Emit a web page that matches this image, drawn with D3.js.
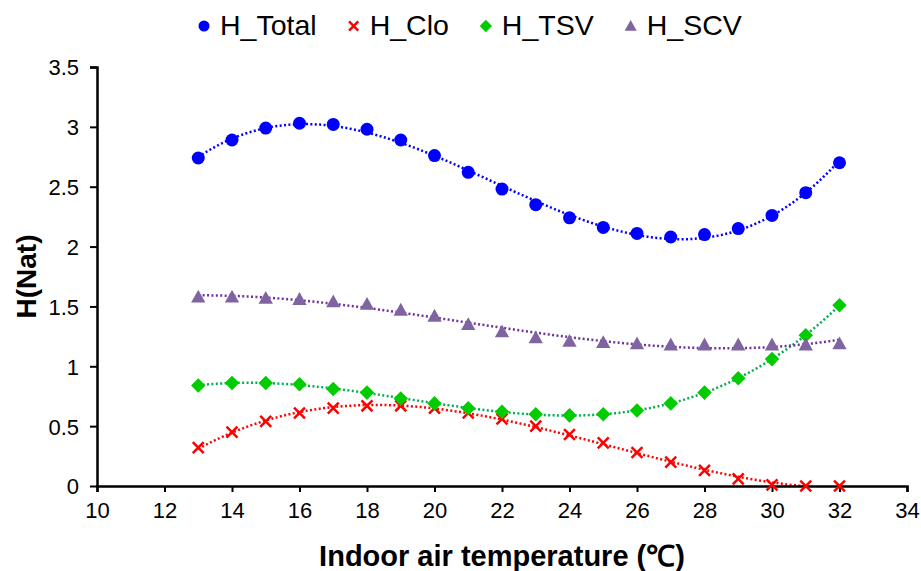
<!DOCTYPE html>
<html>
<head>
<meta charset="utf-8">
<script src="https://cdn.jsdelivr.net/npm/d3@7"></script>
<style>
  body { margin: 0; background: #fff; }
  text { font-family: "Liberation Sans", Arial, sans-serif; }
</style>
</head>
<body>
<script>
// Data
var temps = [13, 14, 15, 16, 17, 18, 19, 20, 21, 22, 23, 24, 25, 26, 27, 28, 29, 30, 31, 32];
var hTotal = [2.74, 2.89, 2.99, 3.03, 3.02, 2.98, 2.89, 2.76, 2.62, 2.48, 2.35, 2.24, 2.16, 2.11, 2.08, 2.10, 2.15, 2.26, 2.45, 2.70];
var hClo   = [0.32, 0.45, 0.54, 0.61, 0.65, 0.67, 0.67, 0.65, 0.61, 0.56, 0.50, 0.43, 0.36, 0.28, 0.20, 0.13, 0.06, 0.01, 0.00, 0.00];
var hTSV   = [0.84, 0.86, 0.86, 0.85, 0.81, 0.78, 0.73, 0.69, 0.65, 0.62, 0.60, 0.59, 0.60, 0.63, 0.69, 0.78, 0.90, 1.06, 1.26, 1.51];
var hSCV   = [1.58, 1.58, 1.57, 1.56, 1.54, 1.52, 1.47, 1.42, 1.35, 1.29, 1.24, 1.21, 1.20, 1.19, 1.18, 1.18, 1.18, 1.18, 1.18, 1.19];
var xTicks = [10, 12, 14, 16, 18, 20, 22, 24, 26, 28, 30, 32, 34];
var yTicks = [0, 0.5, 1, 1.5, 2, 2.5, 3, 3.5];

var w = 921, h = 571;
var margin = {top: 67, right: 14, bottom: 85, left: 97};
var innerWidth = w - margin.left - margin.right;
var innerHeight = h - margin.top - margin.bottom;

var series = [
  {name: "H_Total", values: hTotal, marker: "circle",   fill: "#0000FF", line: "#0000FF"},
  {name: "H_Clo",   values: hClo,   marker: "cross",    fill: "#FF0000", line: "#FF0000"},
  {name: "H_TSV",   values: hTSV,   marker: "diamond",  fill: "#00CC00", line: "#00B050"},
  {name: "H_SCV",   values: hSCV,   marker: "triangle", fill: "#8064A2", line: "#7030A0"}
];

var svg = d3.select("body").append("svg")
    .attr("width", w)
    .attr("height", h);

var x = d3.scaleLinear().domain([10, 34]).range([0, innerWidth]);
var y = d3.scaleLinear().domain([0, 3.5]).range([innerHeight, 0]);

var g = svg.append("g")
    .attr("transform", `translate(${margin.left},${margin.top})`);

svg.append("defs").append("clipPath").attr("id", "plot")
  .append("rect").attr("x", 0).attr("y", 0)
    .attr("width", innerWidth).attr("height", innerHeight);

// least squares cubic trend (like the spreadsheet's polynomial trendline)
function polyFit(xs, ys, deg) {
  var n = deg + 1, A = [], b = [];
  for (var i = 0; i < n; i++) {
    A.push(new Array(n).fill(0));
    b.push(0);
  }
  xs.forEach(function (xv, k) {
    var t = xv - 22.5;
    for (var i = 0; i < n; i++) {
      for (var j = 0; j < n; j++) A[i][j] += Math.pow(t, i + j);
      b[i] += ys[k] * Math.pow(t, i);
    }
  });
  for (var c = 0; c < n; c++) {
    var p = c;
    for (var r = c + 1; r < n; r++) if (Math.abs(A[r][c]) > Math.abs(A[p][c])) p = r;
    [A[c], A[p]] = [A[p], A[c]]; [b[c], b[p]] = [b[p], b[c]];
    for (var r = c + 1; r < n; r++) {
      var f = A[r][c] / A[c][c];
      for (var j = c; j < n; j++) A[r][j] -= f * A[c][j];
      b[r] -= f * b[c];
    }
  }
  var coef = new Array(n).fill(0);
  for (var i = n - 1; i >= 0; i--) {
    var s = b[i];
    for (var j = i + 1; j < n; j++) s -= A[i][j] * coef[j];
    coef[i] = s / A[i][i];
  }
  return function (xv) {
    var t = xv - 22.5, v = 0;
    for (var i = 0; i < n; i++) v += coef[i] * Math.pow(t, i);
    return v;
  };
}

var line = d3.line().x(d => x(d[0])).y(d => y(d[1]));

// trendlines
var lines = g.append("g").attr("clip-path", "url(#plot)");
series.forEach(function (s) {
  var f = polyFit(temps, s.values, 3);
  var pts = d3.range(13, 32.001, 0.1).map(t => [t, f(t)]);
  lines.append("path")
      .attr("d", line(pts))
      .attr("fill", "none")
      .attr("stroke", s.line)
      .attr("stroke-width", 2.5)
      .attr("stroke-dasharray", "2,2.4");
});

// axes
var yAxis = g.append("g")
    .call(d3.axisLeft(y).tickValues(yTicks).tickFormat(d3.format("")).tickSize(7).tickPadding(11));
var xAxis = g.append("g")
    .attr("transform", `translate(0,${innerHeight})`)
    .call(d3.axisBottom(x).tickValues(xTicks).tickSize(6).tickPadding(10));

[xAxis, yAxis].forEach(function (a) {
  a.select(".domain").attr("stroke", "#000").attr("stroke-width", 2.5);
  a.selectAll(".tick line").attr("stroke", "#000").attr("stroke-width", 2);
  a.selectAll(".tick text")
      .attr("fill", "#000")
      .style("font-size", "22px")
      .style("font-family", "'Liberation Sans', Arial, sans-serif");
});
yAxis.select(".domain").attr("d", `M-7,0.5H0.5V${innerHeight}`);
yAxis.selectAll(".tick text").attr("dy", "0.36em");

// markers
function drawMarker(sel, type, color, size) {
  if (type === "circle") {
    sel.append("circle").attr("r", size * 0.5).attr("fill", color);
  } else if (type === "diamond") {
    var d = size * 0.56;
    sel.append("path").attr("d", `M0,${-d}L${d},0L0,${d}L${-d},0Z`).attr("fill", color);
  } else if (type === "triangle") {
    var hw = size * 0.55;
    sel.append("path").attr("d", `M0,${-hw}L${hw},${hw * 0.8}L${-hw},${hw * 0.8}Z`).attr("fill", color);
  } else if (type === "cross") {
    var c = size * 0.42;
    sel.append("path").attr("d", `M${-c},${-c}L${c},${c}M${-c},${c}L${c},${-c}`)
        .attr("stroke", color).attr("stroke-width", 2.5).attr("fill", "none");
  }
}

series.forEach(function (s) {
  var pts = g.append("g").selectAll("g")
    .data(temps.map((t, i) => [t, s.values[i]]))
    .enter().append("g")
      .attr("transform", d => `translate(${x(d[0])},${y(d[1])})`);
  pts.each(function () { drawMarker(d3.select(this), s.marker, s.fill, 13); });
});

// axis titles
svg.append("text")
    .attr("x", margin.left + innerWidth / 2)
    .attr("y", 566)
    .attr("text-anchor", "middle")
    .style("font-size", "29px")
    .style("font-weight", "bold")
    .text("Indoor air temperature (℃)");

svg.append("text")
    .attr("transform", `translate(36,${margin.top + innerHeight / 2}) rotate(-90)`)
    .attr("text-anchor", "middle")
    .style("font-size", "28px")
    .style("font-weight", "bold")
    .text("H(Nat)");

// legend
var legend = svg.append("g");
var lx = 204;
series.forEach(function (s) {
  var item = legend.append("g").attr("transform", `translate(${lx},26)`);
  drawMarker(item, s.marker, s.fill, 11);
  var t = item.append("text")
      .attr("x", 16)
      .attr("y", 9)
      .style("font-size", "28.5px")
      .text(s.name);
  lx += 16 + t.node().getComputedTextLength() + 37;
});
</script>
</body>
</html>
